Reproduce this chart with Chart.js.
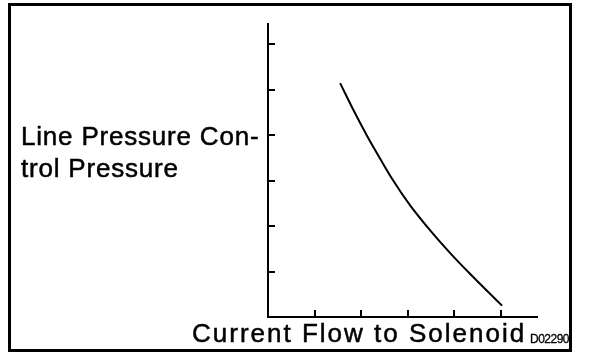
<!DOCTYPE html>
<html>
<head>
<meta charset="utf-8">
<script src="https://cdn.jsdelivr.net/npm/chart.js@4.4.1/dist/chart.umd.min.js"></script>
<style>
  body { margin: 0; background: #fff; }
  #wrap { position: relative; width: 608px; height: 364px; overflow: hidden; }
  #frame { position: absolute; left: 8px; top: 3px; width: 558px; height: 343px; border: 3px solid #000; }
  canvas { position: absolute; left: 0; top: 0; }
  .lbl { position: absolute; font-family: 'Liberation Sans', Arial, sans-serif; color: #000; white-space: nowrap; -webkit-text-stroke: 0.5px #000; }
  #ylab { left: 21px; top: 120px; font-size: 26px; line-height: 32px; letter-spacing: 0.8px; }
  #xlab { left: 192px; top: 318px; font-size: 26px; letter-spacing: 2px; }
  #code { left: 530px; top: 332px; font-size: 12px; letter-spacing: -0.5px; -webkit-text-stroke: 0.3px #000; }
</style>
</head>
<body>
<div id="wrap">
  <div id="frame"></div>
  <canvas id="chart" width="608" height="364"></canvas>
  <div class="lbl" id="ylab">Line Pressure Con-<br>trol Pressure</div>
  <div class="lbl" id="xlab">Current Flow to Solenoid</div>
  <div class="lbl" id="code">D02290</div>
</div>
<script>
// values (no units on the original axes)
const currentFlow = [1.55, 1.83, 2.13, 2.41, 2.69, 3.05, 3.48, 3.91, 4.34, 4.77, 5.03];
const linePressure = [5.14, 4.56, 3.98, 3.48, 3.00, 2.46, 1.91, 1.41, 0.95, 0.51, 0.25];
const xTicks = [1, 2, 3, 4, 5];
const yTicks = [1, 2, 3, 4, 5, 6];

// short tick marks pointing into the plot
const inwardTicks = {
  id: 'inwardTicks',
  afterDraw(chart) {
    const { ctx, chartArea } = chart;
    const x = chart.scales.x, y = chart.scales.y;
    ctx.save();
    ctx.strokeStyle = '#000';
    ctx.lineWidth = 2;
    ctx.beginPath();
    yTicks.forEach(v => {
      const py = Math.round(y.getPixelForValue(v));
      ctx.moveTo(chartArea.left, py);
      ctx.lineTo(chartArea.left + 7, py);
    });
    xTicks.forEach(v => {
      const px = Math.round(x.getPixelForValue(v));
      ctx.moveTo(px, chartArea.bottom);
      ctx.lineTo(px, chartArea.bottom - 7);
    });
    ctx.stroke();
    ctx.restore();
  }
};

new Chart(document.getElementById('chart'), {
  type: 'scatter',
  data: {
    datasets: [{
      data: currentFlow.map((v, i) => ({ x: v, y: linePressure[i] })),
      showLine: true,
      borderColor: '#000',
      borderWidth: 2,
      pointRadius: 0,
      cubicInterpolationMode: 'monotone'
    }]
  },
  options: {
    responsive: false,
    animation: false,
    layout: { padding: { left: 268, right: 71, top: 24, bottom: 47 } },
    plugins: { legend: { display: false }, tooltip: { enabled: false } },
    scales: {
      x: {
        type: 'linear', min: 0, max: 5.78,
        grid: { display: false, drawTicks: false },
        border: { display: true, color: '#000', width: 2 },
        ticks: { display: false }
      },
      y: {
        type: 'linear', min: 0, max: 6.44,
        grid: { display: false, drawTicks: false },
        border: { display: true, color: '#000', width: 2 },
        ticks: { display: false }
      }
    }
  },
  plugins: [inwardTicks]
});
</script>
</body>
</html>
